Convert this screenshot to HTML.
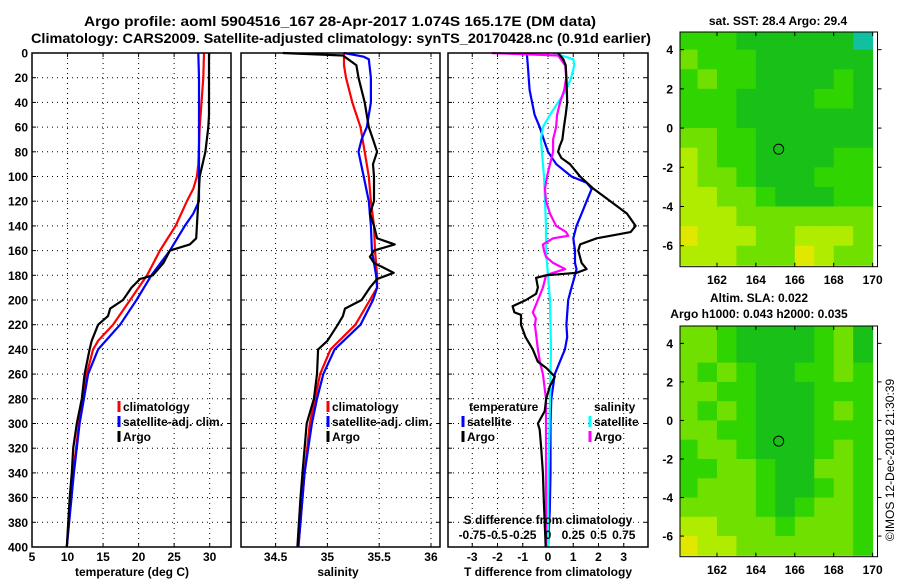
<!DOCTYPE html>
<html><head><meta charset="utf-8">
<style>
body{margin:0;background:#fff;}
svg{display:block;font-family:"Liberation Sans",Arial,sans-serif;font-weight:bold;}
</style></head>
<body>
<svg id="chart" width="900" height="580" viewBox="0 0 900 580" xmlns="http://www.w3.org/2000/svg">
<rect width="900" height="580" fill="#fff"/>
<text x="340" y="26" font-size="14" text-anchor="middle" textLength="512" lengthAdjust="spacingAndGlyphs">Argo profile: aoml 5904516_167 28-Apr-2017 1.074S 165.17E (DM data)</text>
<text x="341" y="43" font-size="14" text-anchor="middle" textLength="620" lengthAdjust="spacingAndGlyphs">Climatology: CARS2009. Satellite-adjusted climatology: synTS_20170428.nc (0.91d earlier)</text>
<g id="plots"></g>
<text transform="translate(894,460) rotate(-90)" font-size="12" font-weight="normal" text-anchor="middle">©IMOS 12-Dec-2018 21:30:39</text>
</svg>
<script>
// ---- profile data ----
const tArgoDepth=[0,50,60,80,100,120,140,150,155,160,170,180,183,190,200,207,213,220,233,240,260,280,300,320,340,360,400];
const tArgo=[29.9,29.9,29.8,29.4,28.6,28.4,28.2,28.1,27.2,24.4,23.5,22.0,20.2,19.0,17.8,16.0,15.7,14.3,13.4,13.1,12.4,12.0,11.3,10.8,10.6,10.3,9.9];
const tClimDepth=[0,20,60,90,100,110,120,140,160,180,200,220,233,240,260,280,300,340,400];
const tClim=[29.2,29.1,28.6,28.4,28.2,27.7,26.8,25.2,23.0,21.2,18.8,16.4,14.3,13.6,12.7,12.2,11.6,10.8,9.9];
const tSatDepth=[0,20,40,120,130,140,160,180,200,220,240,260,280,300,340,400];
const tSat=[28.4,28.5,28.5,28.5,27.7,26.5,24.4,21.8,19.7,17.4,14.3,12.9,12.3,11.7,10.9,9.9];

const sArgoDepth=[0,2,5,10,20,40,60,70,80,90,100,120,130,140,150,155,160,165,170,178,183,190,200,207,213,220,233,240,260,280,300,320,340,360,400];
const sArgo=[34.57,35.15,35.2,35.28,35.3,35.36,35.4,35.44,35.48,35.44,35.45,35.45,35.41,35.45,35.48,35.65,35.45,35.41,35.45,35.64,35.48,35.41,35.33,35.17,35.15,35.1,35.0,34.91,34.9,34.87,34.8,34.78,34.76,34.74,34.71];
const sClimDepth=[0,10,20,40,60,80,100,120,140,160,180,190,200,220,240,260,280,300,340,400];
const sClim=[35.16,35.16,35.18,35.24,35.32,35.36,35.4,35.42,35.45,35.46,35.48,35.48,35.41,35.27,35.03,34.93,34.88,34.83,34.78,34.72];
const sSatDepth=[0,3,5,20,40,60,70,80,100,120,140,160,180,190,200,220,240,260,280,300,340,400];
const sSat=[35.16,35.35,35.4,35.42,35.42,35.38,35.33,35.3,35.35,35.4,35.42,35.43,35.47,35.48,35.44,35.32,35.07,34.96,34.9,34.85,34.78,34.72];

const dTSatDepth=[0,10,30,50,60,70,80,90,100,105,110,120,130,140,150,160,170,175,180,190,200,220,230,240,260,270,280,300,340,370,400];
const dTSat=[-0.84,-0.8,-0.73,-0.53,-0.33,-0.17,0,0.33,0.93,1.53,1.73,1.53,1.33,1.13,1.0,1.07,1.07,1.13,1.07,0.93,0.8,0.73,0.76,0.67,0.27,0.2,0.13,0.1,0.1,0.07,0];
const dTArgoDepth=[0,5,10,20,40,50,60,70,75,80,85,90,100,110,120,130,140,145,150,155,160,170,175,178,180,182,190,195,200,205,210,212,220,230,240,250,255,262,270,280,290,300,305,320,340,360,400];
const dTArgo=[0.4,0.6,0.7,0.73,0.76,0.7,0.63,0.57,0.47,0.4,0.53,0.87,1.27,1.8,2.47,3.13,3.47,3.27,1.93,1.27,1.2,1.33,1.53,1.13,-0.07,-0.47,-0.4,-0.47,-0.87,-1.4,-1.33,-1.07,-1.07,-0.89,-0.6,-0.4,-0.07,0.27,0.07,-0.07,-0.13,-0.4,-0.33,-0.27,-0.2,-0.17,-0.09];
const dSSatDepth=[0,5,10,20,30,40,50,60,70,80,100,120,140,160,180,200,240,280,320,360,400];
const dSSat=[0.05,0.25,0.26,0.23,0.18,0.1,0.02,-0.05,-0.07,-0.06,-0.04,-0.03,-0.02,-0.02,0,0.02,0.03,0.02,0.01,0,0];
const dSArgoDepth=[0,0.1,2,10,20,30,40,50,60,70,80,90,100,110,120,130,140,145,148,150,155,160,165,170,175,178,180,190,200,210,215,220,240,250,260,280,300,350,400];
const dSArgo=[-0.55,-0.55,0.1,0.17,0.18,0.16,0.12,0.09,0.08,0.05,0.05,0.02,-0.01,-0.03,-0.02,0.02,0.08,0.18,0.2,0.05,-0.05,-0.04,-0.02,0.05,0.17,0.05,-0.02,-0.05,-0.1,-0.15,-0.12,-0.13,-0.1,-0.08,-0.05,-0.02,-0.02,-0.02,-0.02];

const depthTicks=[0,20,40,60,80,100,120,140,160,180,200,220,240,260,280,300,320,340,360,380,400];
const tTicks=[5,10,15,20,25,30];
const sTicks=[34.5,35,35.5,36];
const dTTicks=[-3,-2,-1,0,1,2,3];
const dSTickLabels=["-0.75","-0.5","-0.25","0","0.25","0.5","0.75"];
const dSTicks=[-0.75,-0.5,-0.25,0,0.25,0.5,0.75];

// ---- map data (colour levels 0..6 on a 1-degree grid, rows lat 5..-7, cols lon 160..170) ----
const sstGrid=[
[2,2,2,1,1,1,1,1,1,0],
[3,2,2,2,1,1,1,1,1,1],
[2,3,2,2,1,1,1,1,2,1],
[2,2,2,1,1,1,1,2,2,1],
[2,2,2,1,1,1,1,1,1,1],
[3,3,2,2,1,1,1,1,1,1],
[4,3,2,2,1,1,1,1,2,2],
[4,3,3,2,1,1,1,2,2,2],
[4,4,3,3,2,1,1,1,2,2],
[4,4,4,3,3,3,3,3,3,3],
[5,4,4,4,3,3,4,4,4,3],
[4,4,4,3,3,3,5,4,3,3]];
const slaGrid=[
[3,3,2,1,1,1,1,2,3,1],
[3,3,2,1,1,0.7,1,2,3,1],
[3,2,3,2,1,1,2,2,3,2],
[3,3,2,2,1,1,1,2,2,2],
[3,2,3,2,1,1,1,2,3,2],
[3,3,2,2,1,1,1,2,2,2],
[2,3,3,2,1,1,1,2,3,2],
[2,2,3,3,2,1,1,3,3,2],
[2,3,3,3,2,1,1,2,3,2],
[3,3,3,3,2,1,2,3,3,2],
[4,4,3,3,3,2,3,3,3,2],
[5,4,4,3,3,3,3,3,3,2]];
const lonTicks=[162,164,166,168,170];
const latTicks=[4,2,0,-2,-4,-6];
const argoLon=165.17, argoLat=-1.074;

const NS="http://www.w3.org/2000/svg";
const root=document.getElementById('plots');
function mk(tag,attrs,parent){const e=document.createElementNS(NS,tag);for(const k in attrs)e.setAttribute(k,attrs[k]);(parent||root).appendChild(e);return e;}
function txt(s,x,y,size,anchor,fill,parent){const t=mk('text',{x:x,y:y,'font-size':size,'text-anchor':anchor||'middle',fill:fill||'#000'},parent);t.textContent=s;return t;}

const TOP=53,BOT=547;
const yD=d=>TOP+d*(BOT-TOP)/400;

function panel(name,x0,x1,xmin,xmax){
  const g=mk('g',{});
  
  
  const xs=v=>x0+(v-xmin)*(x1-x0)/(xmax-xmin);
  return {g,xs,x0,x1};
}
function grid(p,xt,xlabels){
  depthTicks.forEach(d=>{
    if(d>0&&d<400){const l=mk('line',{x1:p.x0,x2:p.x1,y1:yD(d),y2:yD(d),stroke:'#000','stroke-width':1,'stroke-dasharray':'1,4'},p.g);
    }
    mk('line',{x1:p.x0,x2:p.x0+4,y1:yD(d),y2:yD(d),stroke:'#000'},p.g);
    mk('line',{x1:p.x1-4,x2:p.x1,y1:yD(d),y2:yD(d),stroke:'#000'},p.g);
  });
  xt.forEach((v,i)=>{
    const x=p.xs(v);
    if(x>p.x0+1&&x<p.x1-1){const l=mk('line',{x1:x,x2:x,y1:TOP,y2:BOT,stroke:'#000','stroke-width':1,'stroke-dasharray':'1,4'},p.g);
    }
    mk('line',{x1:x,x2:x,y1:BOT-4,y2:BOT,stroke:'#000'},p.g);
    mk('line',{x1:x,x2:x,y1:TOP,y2:TOP+4,stroke:'#000'},p.g);
    const t=txt(xlabels?xlabels[i]:String(v),x,561,12,'middle','#000',p.g);
    
  });
}
function frame(p){
  const r=mk('rect',{x:p.x0,y:TOP,width:p.x1-p.x0,height:BOT-TOP,fill:'none',stroke:'#000','stroke-width':1.5},p.g);
  
}
function line(p,depths,vals,xs,color,name,w){
  const pts=depths.map((d,i)=>xs(vals[i]).toFixed(1)+','+yD(d).toFixed(1)).join(' ');
  const l=mk('polyline',{points:pts,fill:'none',stroke:color,'stroke-width':w||2.2,'stroke-linejoin':'round'},p.g);
  
  
}
function legend(p,x,y,color,label,name){
  mk('line',{x1:x,x2:x,y1:y-10,y2:y+1,stroke:color,'stroke-width':3},p.g);
  const t=txt(label,x+4,y,12,'start','#000',p.g);
  
}

depthTicks.forEach(d=>{
  const t=txt(String(d),28,yD(d)+4.5,12,'end');
  
  
});

const p1=panel('temperature-panel',32,231,5,33);
grid(p1,tTicks);
line(p1,tClimDepth,tClim,p1.xs,'#ff0000','climatology-temp-line');
line(p1,tSatDepth,tSat,p1.xs,'#0000ff','satellite-temp-line');
line(p1,tArgoDepth,tArgo,p1.xs,'#000','argo-temp-line');
frame(p1);
legend(p1,119,411,'#ff0000','climatology','legend-climatology');
legend(p1,119,426,'#0000ff','satellite-adj. clim.','legend-satellite');
legend(p1,119,441,'#000','Argo','legend-argo');
let t1=txt('temperature (deg C)',132,576,12);

const p2=panel('salinity-panel',241,440,34.166,36.087);
grid(p2,sTicks);
line(p2,sClimDepth,sClim,p2.xs,'#ff0000','climatology-salinity-line');
line(p2,sSatDepth,sSat,p2.xs,'#0000ff','satellite-salinity-line');
line(p2,sArgoDepth,sArgo,p2.xs,'#000','argo-salinity-line');
frame(p2);
legend(p2,328,411,'#ff0000','climatology','legend-climatology-2');
legend(p2,328,426,'#0000ff','satellite-adj. clim.','legend-satellite-2');
legend(p2,328,441,'#000','Argo','legend-argo-2');
let t2=txt('salinity',338,576,12);

const p3=panel('difference-panel',448,648,-3.96,3.96);
grid(p3,dTTicks);
const sx=v=>p3.xs(v*4);
line(p3,dTSatDepth,dTSat,p3.xs,'#0000ff','satellite-temp-diff-line');
line(p3,dSSatDepth,dSSat,sx,'#00ffff','satellite-salinity-diff-line');
line(p3,dSArgoDepth,dSArgo,sx,'#ff00ff','argo-salinity-diff-line');
line(p3,dTArgoDepth,dTArgo,p3.xs,'#000','argo-temp-diff-line');
frame(p3);
let lt=txt('temperature',469,411,12,'start','#000',p3.g);
legend(p3,463,426,'#0000ff','satellite','legend-temp-satellite');
legend(p3,463,441,'#000','Argo','legend-temp-argo');
let ls=txt('salinity',594,411,12,'start','#000',p3.g);
legend(p3,590,426,'#00ffff','satellite','legend-sal-satellite');
legend(p3,590,441,'#ff00ff','Argo','legend-sal-argo');
let st=txt('S difference from climatology',548,524,12,'middle','#000',p3.g);
dSTicks.forEach((v,i)=>{const t=txt(dSTickLabels[i],sx(v),539,12,'middle','#000',p3.g);});
let t3=txt('T difference from climatology',548,576,12);

const palette=['#10c0a0','#18c018','#30d400','#70e000','#b0ec00','#e0e800','#ffc800'];
function map(name,x0,x1,y0,y1,gridData,titleLines,titleYs,labelY){
  const g=mk('g',{});
  
  
  const lonMin=160.1,lonMax=170.25,latMax=4.9,latMin=-7.07;
  const xs=v=>x0+(v-lonMin)*(x1-x0)/(lonMax-lonMin);
  const ys=v=>y0+(latMax-v)*(y1-y0)/(latMax-latMin);
  gridData.forEach((row,r)=>row.forEach((v,c)=>{
    const lo=160+c, la=5-r;
    const xa=Math.max(x0,xs(lo)), xb=Math.min(x1,xs(lo+1));
    const ya=Math.max(y0,ys(la)), yb=Math.min(y1,ys(la-1));
    const lvl=Math.round(v);
    const cell=mk('rect',{x:xa,y:ya,width:xb-xa+0.5,height:yb-ya+0.5,fill:palette[Math.max(0,Math.min(6,lvl))]},g);
    
    
  }));
  mk('rect',{x:x0,y:y0,width:x1-x0,height:y1-y0,fill:'none',stroke:'#000','stroke-width':1},g);
  lonTicks.forEach(v=>{const x=xs(v);
    mk('line',{x1:x,x2:x,y1:y0,y2:y0+4,stroke:'#000'},g);mk('line',{x1:x,x2:x,y1:y1-4,y2:y1,stroke:'#000'},g);
    const t=txt(String(v),x,labelY,12,'middle','#000',g);});
  latTicks.forEach(v=>{const y=ys(v);
    mk('line',{x1:x0,x2:x0+4,y1:y,y2:y,stroke:'#000'},g);mk('line',{x1:x1,x2:x1+4,y1:y,y2:y,stroke:'#000'},g);
    const t=txt(String(v),673,y+4.5,12,'end','#000',g);});
  const c=mk('circle',{cx:xs(argoLon),cy:ys(argoLat),r:5,fill:'none',stroke:'#000','stroke-width':1},g);
  
  titleLines.forEach((s,i)=>{const t=txt(s,titleLines.length>1?759:778,titleYs[i],12,'middle','#000',g);});
}
map('sst-map',680,877.5,32,266.7,sstGrid,['sat. SST: 28.4 Argo: 29.4'],[25],284);
map('sla-map',680,877.5,326,556.7,slaGrid,['Altim. SLA: 0.022','Argo h1000: 0.043 h2000: 0.035'],[302,318],574);
</script>
</body></html>
